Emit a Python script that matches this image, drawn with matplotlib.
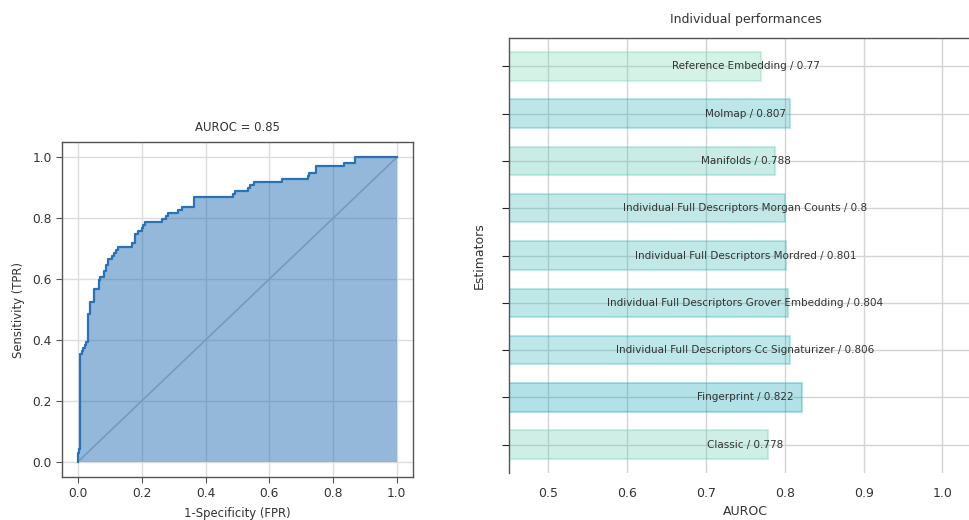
import numpy as np
import matplotlib
matplotlib.use("Agg")
import matplotlib.pyplot as plt
from matplotlib.colors import LinearSegmentedColormap

# ROC curve: false-positive rate at which the true-positive rate steps up
fpr = [0.0, 0.003, 0.007, 0.013, 0.017, 0.021, 0.026, 0.030, 0.031, 0.037,
       0.050, 0.066, 0.069, 0.083, 0.087, 0.095, 0.108, 0.113, 0.118, 0.124,
       0.168, 0.179, 0.187, 0.200, 0.204, 0.209, 0.262, 0.275, 0.281, 0.315,
       0.326, 0.364, 0.487, 0.494, 0.534, 0.541, 0.553, 0.640, 0.722, 0.726,
       0.747, 0.834, 0.870, 1.0]
tpr = [0.030, 0.043, 0.353, 0.363, 0.373, 0.383, 0.393, 0.403, 0.484, 0.526,
       0.566, 0.597, 0.607, 0.626, 0.647, 0.667, 0.677, 0.687, 0.697, 0.707,
       0.717, 0.748, 0.758, 0.768, 0.778, 0.788, 0.798, 0.808, 0.818, 0.828,
       0.838, 0.869, 0.879, 0.889, 0.899, 0.909, 0.919, 0.929, 0.939, 0.949,
       0.970, 0.980, 1.0, 1.0]

# Per-estimator AUROC (bottom to top)
estimators = ["Classic", "Fingerprint",
              "Individual Full Descriptors Cc Signaturizer",
              "Individual Full Descriptors Grover Embedding",
              "Individual Full Descriptors Mordred",
              "Individual Full Descriptors Morgan Counts",
              "Manifolds", "Molmap", "Reference Embedding"]
auroc = [0.778, 0.822, 0.806, 0.804, 0.801, 0.8, 0.788, 0.807, 0.77]

x_ticks = [0.5, 0.6, 0.7, 0.8, 0.9, 1.0]
roc_ticks = [0.0, 0.2, 0.4, 0.6, 0.8, 1.0]

text_c = "#333333"
spine_c = "#555555"
grid_c = "#dcdcdc"
plt.rcParams.update({
    "font.family": "DejaVu Sans",
    "font.size": 8,
    "text.color": text_c,
    "axes.labelcolor": text_c,
    "xtick.color": text_c,
    "ytick.color": text_c,
})

fig = plt.figure(figsize=(9.69, 5.20), dpi=100)

# ---------------- ROC panel ----------------
ax1 = fig.add_axes([0.064, 0.0827, 0.362, 0.644])
fx = np.array([0.0] + fpr)
fy = np.array([0.0] + tpr)
auc = float(np.sum(fy[:-1] * np.diff(fx)))
line_c = "#2972b5"
ax1.plot([0, 1], [0, 1], color="#c4c4c4", lw=1.2, zorder=1)
ax1.fill_between(fx, 0, fy, step="post", color=line_c, alpha=0.5, lw=0, zorder=2)
ax1.plot(fx, fy, drawstyle="steps-post", color=line_c, lw=1.6, zorder=3)
ax1.set_xlim(-0.05, 1.05)
ax1.set_ylim(-0.05, 1.05)
ax1.set_xticks(roc_ticks)
ax1.set_yticks(roc_ticks)
ax1.grid(True, color=grid_c, lw=1.0, zorder=0)
ax1.set_axisbelow(True)
for s in ax1.spines.values():
    s.set_color(spine_c)
    s.set_linewidth(1.0)
ax1.tick_params(length=4, width=0.8, color=spine_c, labelsize=8.8)
ax1.set_xlabel("1-Specificity (FPR)", fontsize=8.4, labelpad=5)
ax1.set_ylabel("Sensitivity (TPR)", fontsize=8.4, labelpad=5)
ax1.set_title(f"AUROC = {auc:.2f}", fontsize=8.4, pad=8)

# ---------------- bar panel ----------------
ax2 = fig.add_axes([0.5253, 0.0904, 0.488, 0.8365])
cmap = LinearSegmentedColormap.from_list("mint_teal", ["#73d4ac", "#02a0b6"])
vals = np.array(auroc)
norm = (vals - vals.min()) / (vals.max() - vals.min())
ypos = np.arange(len(estimators))
for y, v, t in zip(ypos, auroc, norm):
    c = cmap(t)
    ax2.barh(y, v, height=0.6, color=c, edgecolor=c, lw=1.5, alpha=0.3, zorder=2)
for y, name, v in zip(ypos, estimators, auroc):
    ax2.text(0.75, y, f"{name} / {v}", ha="center", va="center",
             fontsize=7.5, color=text_c, zorder=3)
ax2.set_xlim(0.45, 1.05)
ax2.set_ylim(-0.6, len(estimators) - 0.4)
ax2.set_xticks(x_ticks)
ax2.set_yticks(ypos)
ax2.set_yticklabels([])
ax2.grid(True, color="#d4d4d4", lw=1.0, zorder=0)
ax2.set_axisbelow(True)
ax2.spines["bottom"].set_visible(False)
ax2.spines["right"].set_visible(False)
for k in ("top", "left"):
    ax2.spines[k].set_color(spine_c)
    ax2.spines[k].set_linewidth(1.0)
ax2.tick_params(axis="y", length=5, width=0.8, color="#222222")
ax2.tick_params(axis="x", length=0, labelsize=9, pad=10)
ax2.set_xlabel("AUROC", fontsize=9, labelpad=4)
ax2.set_ylabel("Estimators", fontsize=9, labelpad=8)
ax2.set_title("Individual performances", fontsize=9, pad=11)

fig.savefig("out.png", dpi=100)
